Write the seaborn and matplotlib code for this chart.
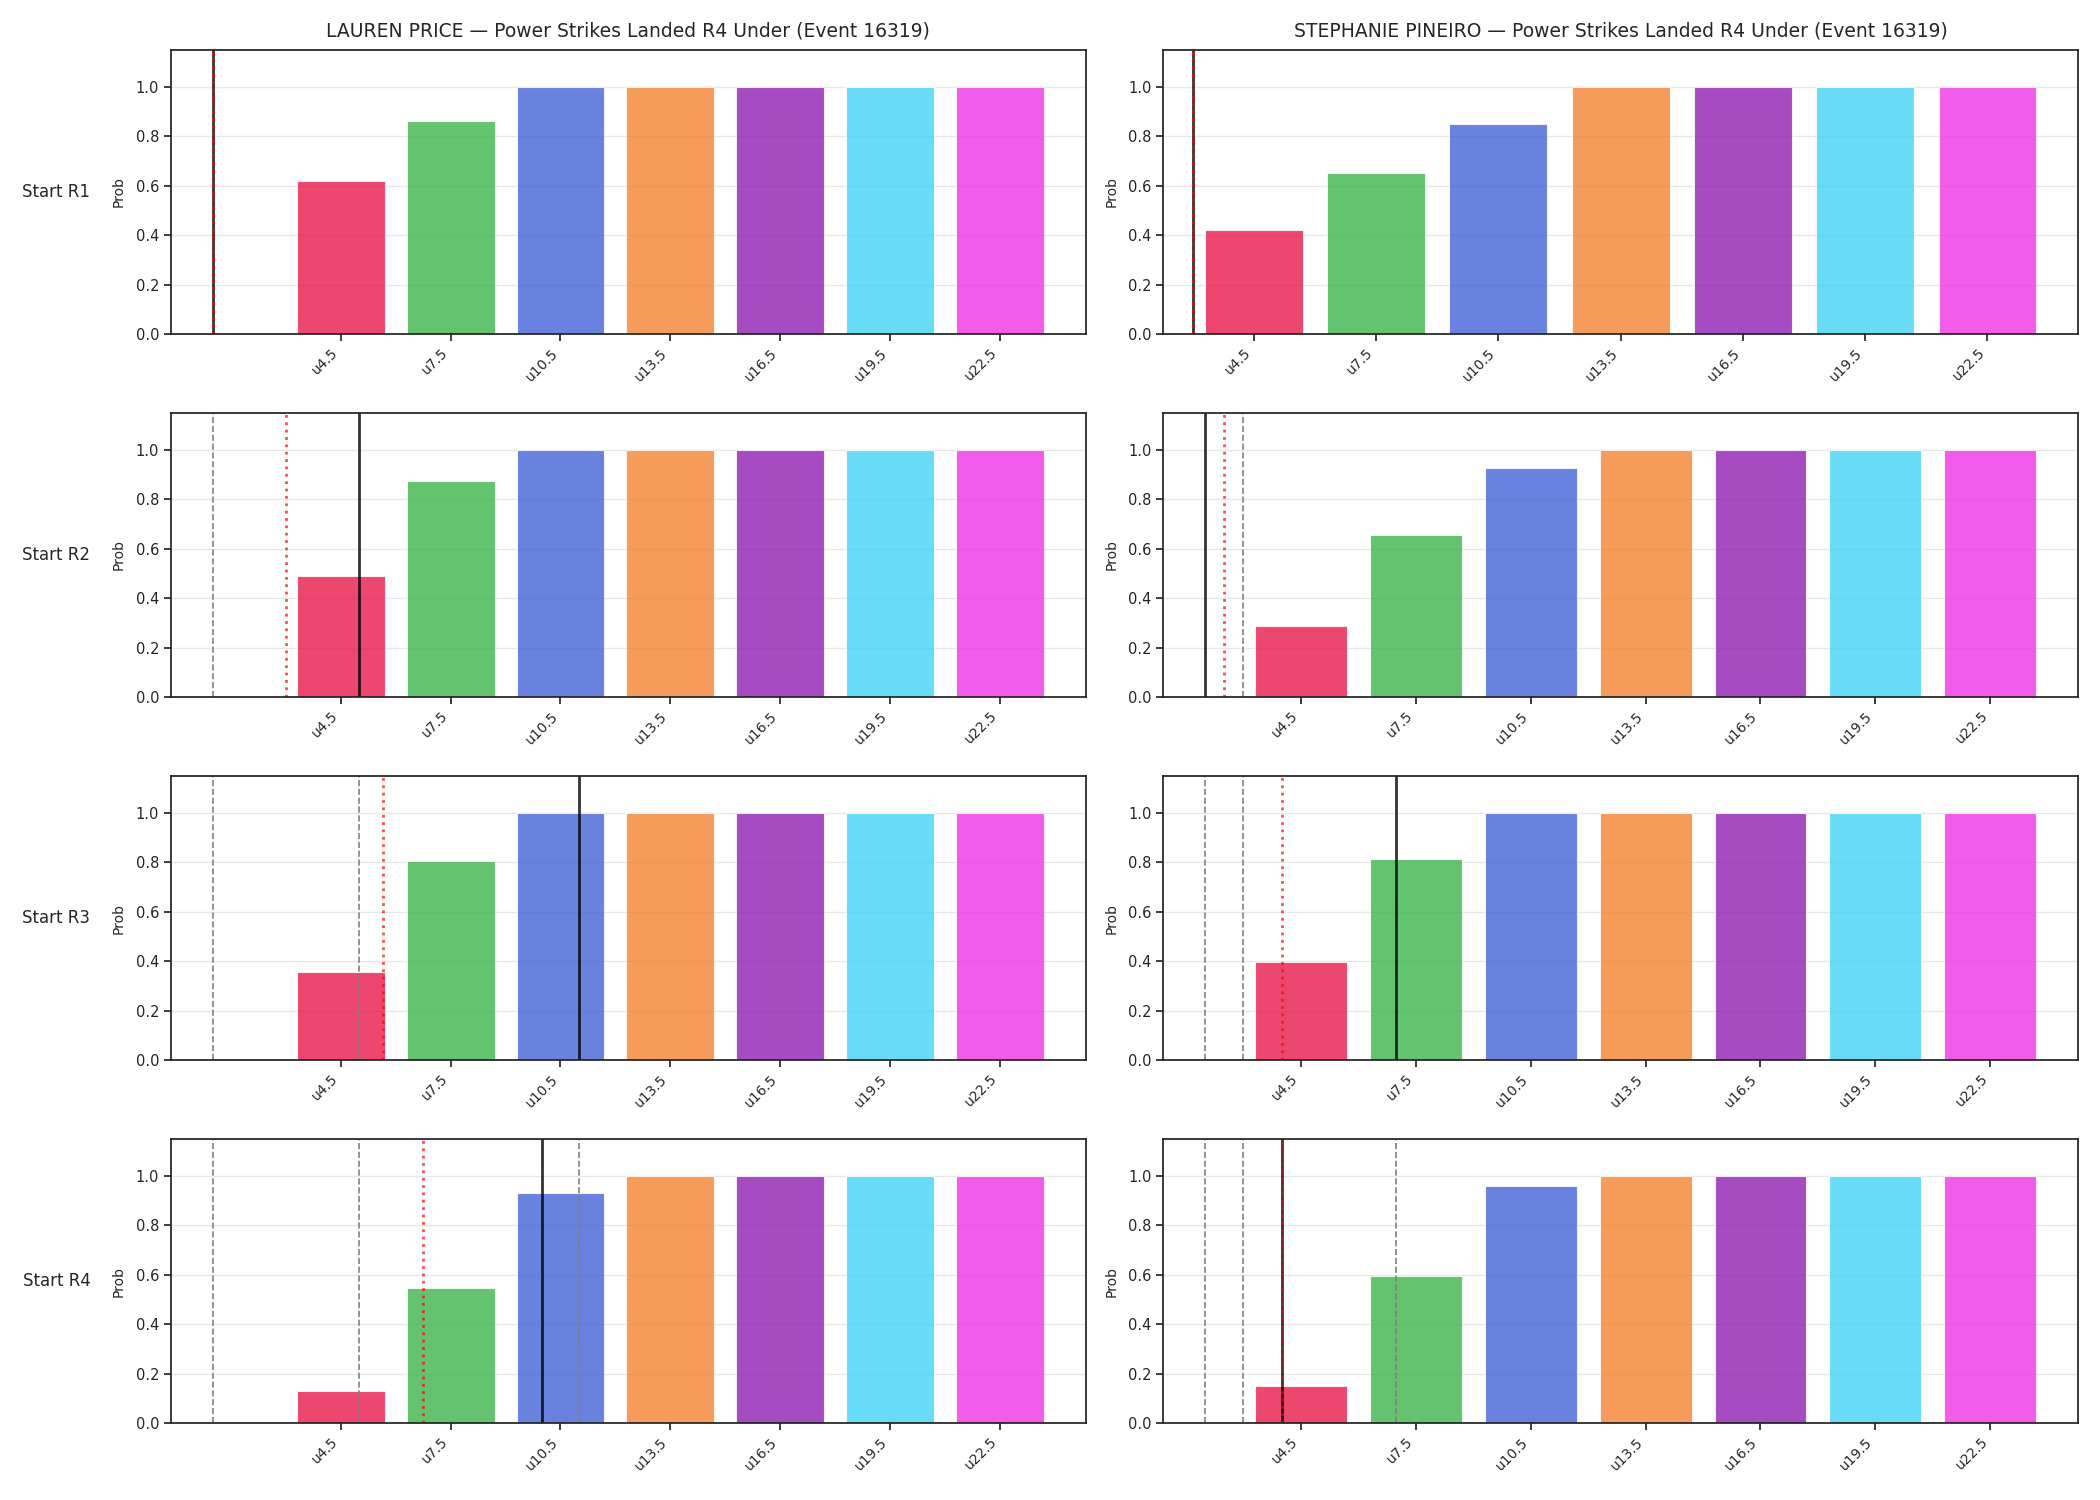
import matplotlib
matplotlib.use("Agg")
import matplotlib.pyplot as plt
import seaborn as sns
import pandas as pd

# markets: under lines for power strikes landed through R4
fighters = ["LAUREN PRICE", "STEPHANIE PINEIRO"]
event_id = 16319
round_labels = ["Start R1", "Start R2", "Start R3", "Start R4"]
lines = [4.5, 7.5, 10.5, 13.5, 16.5, 19.5, 22.5]
line_labels = ["u4.5", "u7.5", "u10.5", "u13.5", "u16.5", "u19.5", "u22.5"]
bar_colors = ["#e6194b", "#3cb44b", "#4363d8", "#f58231", "#911eb4", "#42d4f4", "#f032e6"]

# P(under) at the start of each round
price_probs = [
    [0.620, 0.864, 1.0, 1.0, 1.0, 1.0, 1.0],
    [0.491, 0.875, 1.0, 1.0, 1.0, 1.0, 1.0],
    [0.358, 0.807, 1.0, 1.0, 1.0, 1.0, 1.0],
    [0.128, 0.548, 0.931, 1.0, 1.0, 1.0, 1.0],
]
pineiro_probs = [
    [0.422, 0.653, 0.852, 1.0, 1.0, 1.0, 1.0],
    [0.288, 0.656, 0.927, 1.0, 1.0, 1.0, 1.0],
    [0.395, 0.815, 1.0, 1.0, 1.0, 1.0, 1.0],
    [0.152, 0.596, 0.960, 1.0, 1.0, 1.0, 1.0],
]

# landed count (solid) and projection (dotted) at each round start
price_landed = [1, 5, 11, 10]
price_proj = [1, 3, 5.65, 6.75]
pineiro_landed = [3, 2, 7, 4]
pineiro_proj = [3, 2.5, 4, 4]

sns.set_theme(style="ticks", rc={
    "xtick.labelsize": 10,
    "ytick.labelsize": 10.5,
    "axes.labelsize": 10,
    "axes.titlesize": 13.5,
    "xtick.major.size": 5,
    "ytick.major.size": 5,
    "axes.edgecolor": "#222222",
})
plt.rcParams["font.family"] = ["DejaVu Sans"]

fig, axes = plt.subplots(4, 2, figsize=(21, 15), dpi=100)
fig.subplots_adjust(left=0.0814, right=0.9895, top=0.9667, bottom=0.0513,
                    wspace=0.085, hspace=0.278)

all_probs = [price_probs, pineiro_probs]
all_landed = [price_landed, pineiro_landed]
all_proj = [price_proj, pineiro_proj]

for col, name in enumerate(fighters):
    for row in range(4):
        ax = axes[row, col]
        df = pd.DataFrame({"line": lines, "label": line_labels, "prob": all_probs[col][row]})
        sns.barplot(data=df, x="line", y="prob", hue="label", palette=bar_colors,
                    native_scale=True, dodge=False, legend=False, errorbar=None,
                    saturation=1, alpha=0.8, edgecolor="white", linewidth=0.8, ax=ax)

        # earlier rounds' counts
        for prev in all_landed[col][:row]:
            ax.axvline(prev, color="gray", linestyle="--", linewidth=1.2)
        ax.axvline(all_landed[col][row], color="black", linewidth=2, alpha=0.8)
        ax.axvline(all_proj[col][row], color="red", linestyle=":", linewidth=2, alpha=0.7)

        ax.set_ylim(0, 1.15)
        ax.set_yticks([0, 0.2, 0.4, 0.6, 0.8, 1.0])
        ax.set_xticks(lines)
        ax.set_xticklabels(line_labels, rotation=45, ha="right")
        ax.set_xlabel("")
        ax.set_ylabel("Prob", labelpad=7)
        ax.grid(axis="y", alpha=0.3, color="#b0b0b0")
        ax.set_axisbelow(True)

        if row == 0:
            ax.set_title(f"{name} \u2014 Power Strikes Landed R4 Under (Event {event_id})", pad=10)
        if col == 0:
            ax.text(-0.088, 0.5, round_labels[row], transform=ax.transAxes,
                    ha="right", va="center", fontsize=12)

fig.savefig("out.png", dpi=100)
